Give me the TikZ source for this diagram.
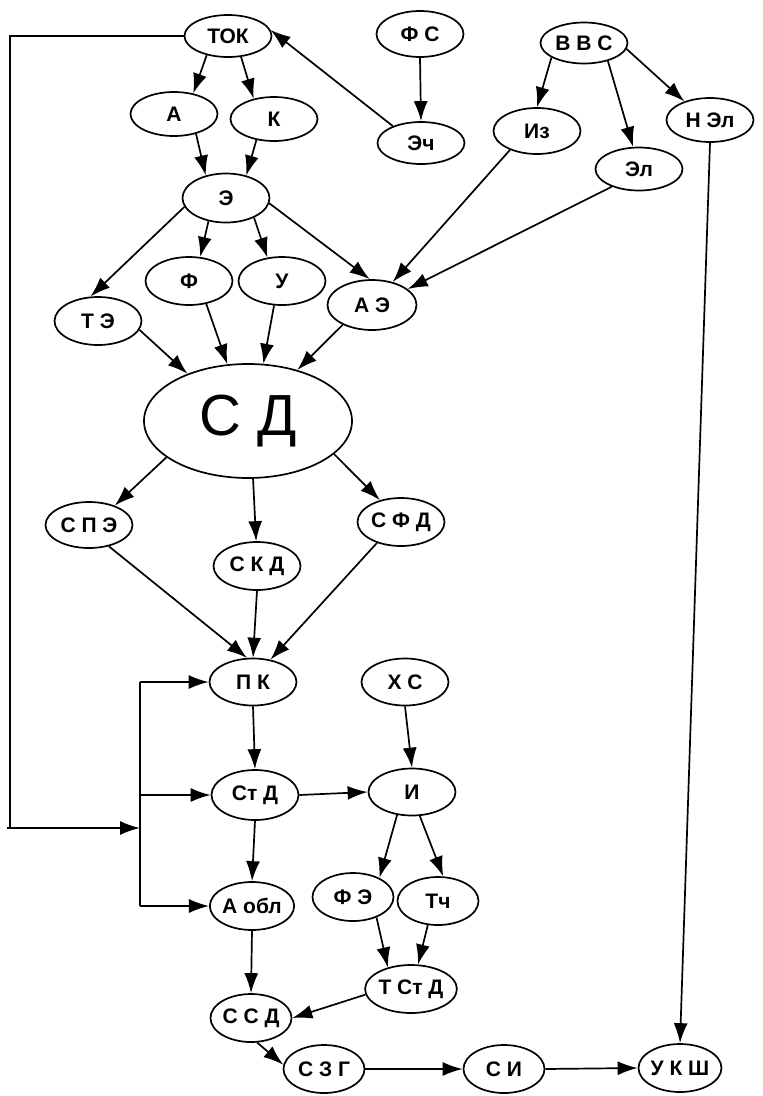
\documentclass[tikz,border=0pt]{standalone}
\usepackage{fontspec}
\setmainfont{Liberation Sans}
\usetikzlibrary{shapes.geometric,arrows.meta}
\begin{document}
\begin{tikzpicture}[x=1pt,y=-1pt,
  bub/.style={ellipse, draw, line width=1.7pt, minimum width=87pt, minimum height=46pt,
    inner sep=0pt, font=\fontsize{21}{21}\selectfont\bfseries},
  bubs/.style={bub, minimum width=81pt, minimum height=48pt},
  arr/.style={-{Latex[length=20pt,width=14pt]}, line width=1.7pt},
  ln/.style={line width=1.7pt}]
\useasboundingbox (0,0) rectangle (763,1096);

% upper block
\node[bub, minimum height=42pt] (TOK) at (228,36) {ТОК};
\node[bub] (FS) at (420,34) {Ф С};
\node[bub, minimum height=42pt] (Ech) at (421,143) {Эч};
\node[bub, minimum height=41pt] (VVS) at (584,43) {В В С};
\node[bub] (Iz) at (537,131) {Из};
\node[bub, minimum height=43pt] (El) at (639,169) {Эл};
\node[bub, minimum height=44pt] (NEl) at (710,120) {Н Эл};
\node[bub, minimum height=44pt] (A) at (174,114) {А};
\node[bub, minimum height=44pt] (K) at (274,119) {К};
\node[bub, minimum height=49pt] (E) at (226,198) {Э};
\node[bub, minimum height=48pt] (F) at (189,281) {Ф};
\node[bub, minimum height=48pt] (U) at (282,281) {У};
\node[bub, minimum height=48pt] (TE) at (98,321) {Т Э};
\node[bub, minimum height=50pt, minimum width=89pt] (AE) at (372,305) {А Э};
\node[bub, minimum width=208pt, minimum height=114pt,
      font=\fontsize{58}{58}\selectfont] (SD) at (248,421) {С Д};

% middle block
\node[bub] (SPE) at (89,525) {С П Э};
\node[bub, minimum height=48pt] (SKD) at (257,566) {С К Д};
\node[bub, minimum height=48pt] (SFD) at (401,522) {С Ф Д};
\node[bub, minimum height=47pt] (PK) at (253,682) {П К};
\node[bub, minimum height=47pt] (XS) at (405,682) {Х С};
\node[bub, minimum height=50pt] (StD) at (255,795) {Ст Д};
\node[bub, minimum height=47pt] (I) at (412,792) {И};

% lower block
\node[bubs] (Aobl) at (252,906) {А обл};
\node[bubs] (FE) at (353,897) {Ф Э};
\node[bubs] (Tch) at (438,901) {Тч};
\node[bubs] (TStD) at (411,989) {Т Ст Д};
\node[bubs] (SSD) at (251,1018) {С С Д};
\node[bubs] (SZG) at (324,1069) {С З Г};
\node[bubs] (SI) at (504,1069) {С И};
\node[bubs] (UKSh) at (680,1068) {У К Ш};

% connectors
\draw[arr] (TOK.222) -- (A.47);
\draw[arr] (TOK.302) -- (K.135);
\draw[arr] (Ech.149) -- (TOK.8);
\draw[arr] (FS.south) -- (Ech.north);
\draw[arr] (VVS.204) -- (Iz.north);
\draw[arr] (VVS.323) -- (El.105);
\draw[arr] (VVS.352) -- (NEl.144);
\draw[arr] (A.318) -- (E.132);
\draw[arr] (K.230) -- (E.48);
\draw[arr] (E.192) -- (TE.107);
\draw[arr] (E.233) -- (F.65);
\draw[arr] (E.325) -- (U.122);
\draw[arr] (E.353) -- (AE.95);
\draw[arr] (Iz.215) -- (AE.48);
\draw[arr] (El.213) -- (AE.24);
\draw[arr] (TE.348) -- (SD.142);
\draw[arr] (F.307) -- (SD.110);
\draw[arr] (U.252) -- (SD.75);
\draw[arr] (AE.214) -- (SD.46);
\draw[arr] (SD.204) -- (SPE.37);
\draw[arr] (SD.275) -- (SKD.92);
\draw[arr] (SD.339) -- (SFD.134);
\draw[arr] (SPE.313) -- (PK.104);
\draw[arr] (SKD.south) -- (PK.north);
\draw[arr] (SFD.221) -- (PK.52);
\draw[arr] (PK.south) -- (StD.north);
\draw[arr] (XS.south) -- (I.north);
\draw[arr] (StD.east) -- (I.west);
\draw[arr] (StD.south) -- (Aobl.north);
\draw[arr] (I.237) -- (FE.36);
\draw[arr] (I.288) -- (Tch.78);
\draw[arr] (Aobl.south) -- (SSD.north);
\draw[arr] (FE.319) -- (TStD.137);
\draw[arr] (Tch.247) -- (TStD.74);
\draw[arr] (TStD.187) -- (SSD.east);
\draw[arr] (SSD.284) -- (SZG.174);
\draw[arr] (SZG.east) -- (SI.west);
\draw[arr] (SI.east) -- (UKSh.west);
\draw[arr] (NEl.south) -- (UKSh.north);

% feedback loop and distribution bus
\coordinate (fbTop) at (10,36);
\coordinate (fbBot) at (10,828);
\coordinate (fbIn) at (7,828);
\coordinate (busIn) at (140,828);
\coordinate (busTop) at (140,682);
\coordinate (busMid) at (140,795);
\coordinate (busBot) at (140,906);
\draw[ln] (TOK.west) -- (fbTop) -- (fbBot);
\draw[arr] (fbIn) -- (busIn);
\draw[ln] (busTop) -- (busBot);
\draw[arr] (busTop) -- (PK.west);
\draw[arr] (busMid) -- (StD.west);
\draw[arr] (busBot) -- (Aobl.west);
\end{tikzpicture}
\end{document}
